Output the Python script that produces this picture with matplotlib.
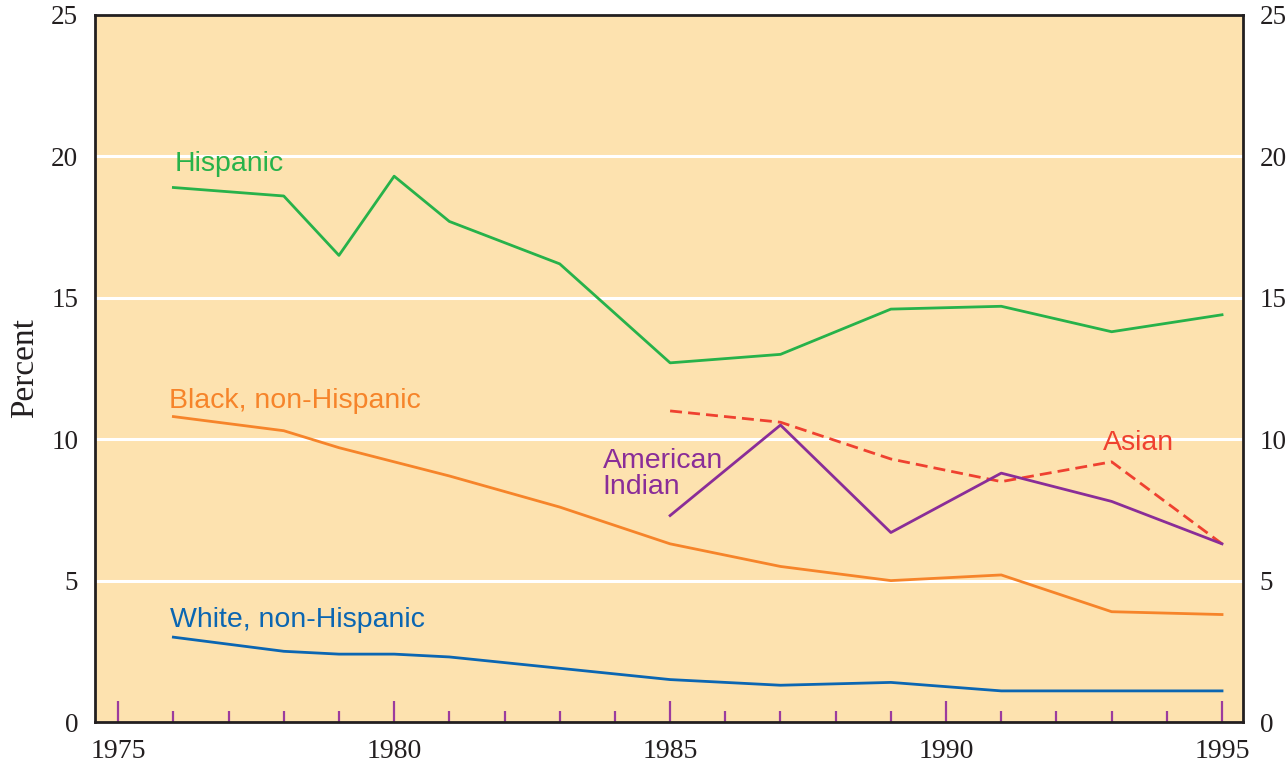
import matplotlib
matplotlib.use("Agg")
import matplotlib.pyplot as plt
from matplotlib.ticker import MultipleLocator

# Percent by group, selected years
years_main = [1976, 1978, 1979, 1980, 1981, 1983, 1985, 1987, 1989, 1991, 1993, 1995]
hispanic = [18.9, 18.6, 16.5, 19.3, 17.7, 16.2, 12.7, 13.0, 14.6, 14.7, 13.8, 14.4]
black = [10.8, 10.3, 9.7, 9.2, 8.7, 7.6, 6.3, 5.5, 5.0, 5.2, 3.9, 3.8]
white = [3.0, 2.5, 2.4, 2.4, 2.3, 1.9, 1.5, 1.3, 1.4, 1.1, 1.1, 1.1]

years_late = [1985, 1987, 1989, 1991, 1993, 1995]
asian = [11.0, 10.6, 9.3, 8.5, 9.2, 6.3]
american_indian = [7.3, 10.5, 6.7, 8.8, 7.8, 6.3]

y_ticks = [0, 5, 10, 15, 20, 25]
x_ticks = [1975, 1980, 1985, 1990, 1995]

C_BG = "#fde2af"
C_GREEN = "#27b24a"
C_ORANGE = "#f6842a"
C_BLUE = "#0b66b2"
C_RED = "#ef4130"
C_PURPLE = "#8a2d98"
C_TICK = "#9c3b9e"
C_INK = "#231f20"

SANS = ["Liberation Sans", "DejaVu Sans"]
SERIF = ["Liberation Serif", "DejaVu Serif"]

plt.rcParams["font.family"] = SERIF
plt.rcParams["xtick.labelsize"] = 20
plt.rcParams["ytick.labelsize"] = 19.5
plt.rcParams["xtick.color"] = C_INK
plt.rcParams["ytick.color"] = C_INK

fig = plt.figure(figsize=(12.87, 7.63), dpi=100)
ax = fig.add_axes([95 / 1287, 41 / 763, 1148 / 1287, 707 / 763])
ax.set_facecolor(C_BG)

ax.set_xlim(1974.58, 1995.38)
ax.set_ylim(0, 25)

for y in y_ticks[1:-1]:
    ax.axhline(y, color="white", lw=2.2, zorder=1)

lw = 2.0
ax.plot(years_main, hispanic, color=C_GREEN, lw=lw, zorder=3)
ax.plot(years_main, black, color=C_ORANGE, lw=lw, zorder=3)
ax.plot(years_main, white, color=C_BLUE, lw=lw, zorder=3)
ax.plot(years_late, asian, color=C_RED, lw=lw, ls=(0, (4.3, 2.2)), zorder=3)
ax.plot(years_late, american_indian, color=C_PURPLE, lw=lw, zorder=4)

fs = 20.5
ax.text(1976.03, 19.48, "Hispanic", color=C_GREEN, fontsize=fs, family=SANS, va="baseline")
ax.text(1975.92, 11.11, "Black, non-Hispanic", color=C_ORANGE, fontsize=fs, family=SANS, va="baseline")
ax.text(1975.94, 3.35, "White, non-Hispanic", color=C_BLUE, fontsize=fs, family=SANS, va="baseline")
ax.text(1992.85, 9.62, "Asian", color=C_RED, fontsize=fs, family=SANS, va="baseline")
ax.text(1983.78, 8.06, "American\nIndian", color=C_PURPLE, fontsize=fs, family=SANS,
        va="baseline", linespacing=1.0)

for s in ax.spines.values():
    s.set_color(C_INK)
    s.set_linewidth(2.0)

# bottom ticks point inward, purple
ax.set_xticks(x_ticks)
ax.xaxis.set_minor_locator(MultipleLocator(1))
ax.tick_params(axis="x", which="major", direction="in", length=15, width=1.6,
               color=C_TICK, labelcolor=C_INK, pad=12)
ax.tick_params(axis="x", which="minor", direction="in", length=8, width=1.6, color=C_TICK)

ax.set_yticks(y_ticks)
ax.tick_params(axis="y", which="both", length=0, pad=12,
               left=True, right=True, labelleft=True, labelright=True, labelcolor=C_INK)

ax.set_ylabel("Percent", fontsize=24, color=C_INK, labelpad=8)

fig.savefig("out.png", dpi=100, facecolor="white")
